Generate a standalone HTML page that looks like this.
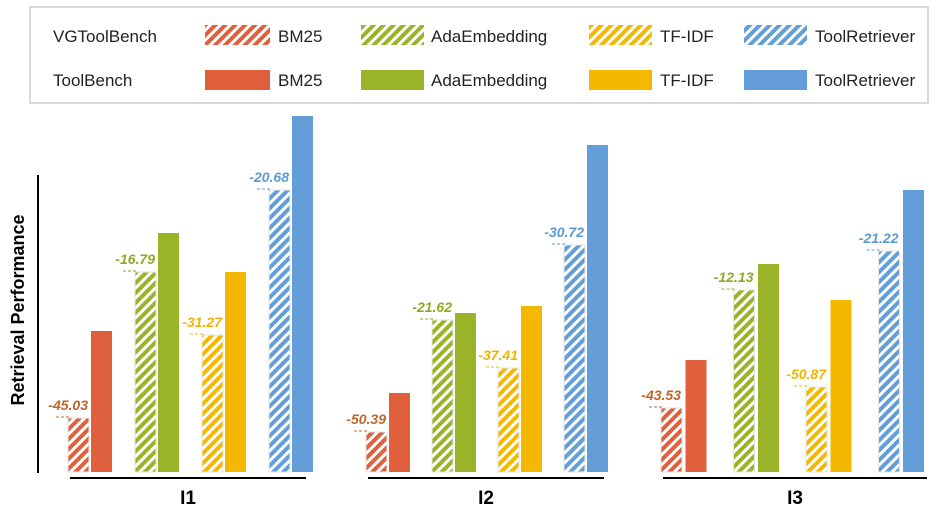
<!DOCTYPE html>
<html><head><meta charset="utf-8"><style>
body{margin:0;background:#fff;}
svg{display:block;font-family:"Liberation Sans",sans-serif;}
</style></head><body>
<svg id="chart" width="932" height="510" viewBox="0 0 932 510" xmlns="http://www.w3.org/2000/svg">
<defs>
<pattern id="h0" patternUnits="userSpaceOnUse" width="7" height="7" patternTransform="rotate(45)"><rect width="7" height="7" fill="#fff"/><rect width="4" height="7" fill="#e0603e"/></pattern>
<pattern id="h1" patternUnits="userSpaceOnUse" width="7" height="7" patternTransform="rotate(45)"><rect width="7" height="7" fill="#fff"/><rect width="4" height="7" fill="#9ab42a"/></pattern>
<pattern id="h2" patternUnits="userSpaceOnUse" width="7" height="7" patternTransform="rotate(45)"><rect width="7" height="7" fill="#fff"/><rect width="4" height="7" fill="#f5b800"/></pattern>
<pattern id="h3" patternUnits="userSpaceOnUse" width="7" height="7" patternTransform="rotate(45)"><rect width="7" height="7" fill="#fff"/><rect width="4" height="7" fill="#649ed8"/></pattern>
</defs>
<rect x="30" y="7" width="898" height="96" fill="#fff" stroke="#d9d9d9" stroke-width="2"/>
<g font-size="17" fill="#222">
<text x="53" y="42">VGToolBench</text>
<text x="53" y="86">ToolBench</text>
<rect x="205" y="25" width="65" height="20" fill="url(#h0)"/>
<text x="278" y="42">BM25</text>
<rect x="361" y="25" width="63" height="20" fill="url(#h1)"/>
<text x="431" y="42">AdaEmbedding</text>
<rect x="589" y="25" width="63" height="20" fill="url(#h2)"/>
<text x="660" y="42">TF-IDF</text>
<rect x="744" y="25" width="63" height="20" fill="url(#h3)"/>
<text x="815" y="42">ToolRetriever</text>
<rect x="205" y="70" width="65" height="20" fill="#e0603e"/>
<text x="278" y="86">BM25</text>
<rect x="361" y="70" width="63" height="20" fill="#9ab42a"/>
<text x="431" y="86">AdaEmbedding</text>
<rect x="589" y="70" width="63" height="20" fill="#f5b800"/>
<text x="660" y="86">TF-IDF</text>
<rect x="744" y="70" width="63" height="20" fill="#649ed8"/>
<text x="815" y="86">ToolRetriever</text>
</g>
<line x1="38" y1="175" x2="38" y2="473" stroke="#000" stroke-width="2"/>
<text transform="translate(24,310) rotate(-90)" text-anchor="middle" font-size="18" font-weight="bold" fill="#000">Retrieval Performance</text>
<g id="marks"></g>
</svg>
<script>
const groups = ["I1","I2","I3"];
const methods = ["BM25","AdaEmbedding","TF-IDF","ToolRetriever"];
const vgValues = [[54,200,137,282],[40,152,104,227],[64,182,85,221]];
const tbValues = [[141,239,200,356],[79,159,166,327],[112,208,172,282]];
const dropLabels = [["-45.03","-16.79","-31.27","-20.68"],["-50.39","-21.62","-37.41","-30.72"],["-43.53","-12.13","-50.87","-21.22"]];
const colors = ["#e0603e","#9ab42a","#f5b800","#649ed8"];
const textColors = ["#c0662a","#8fa826","#f0b400","#5b9bd5"];
const NS = "http://www.w3.org/2000/svg";
const baseY = 472;
const groupStart = [68,366,661];
const groupStep = [67,66,72.5];
const solidOff = [23,23,24.5];
const groupWidth = [240,240,268];
function yScale(v){ return baseY - v; }
function barX(g,m,solid){ return groupStart[g] + m*groupStep[g] + (solid?solidOff[g]:0); }
const marks = document.getElementById('marks');
function mk(tag, attrs){ const e=document.createElementNS(NS,tag); for(const k in attrs) e.setAttribute(k,attrs[k]); marks.appendChild(e); return e; }
groups.forEach((gname,g)=>{
  const gx = groupStart[g];
  const base = mk('line',{x1:gx+2,y1:478,x2:gx+groupWidth[g]-2,y2:478,stroke:'#000','stroke-width':2});
  
  
  const lbl = mk('text',{x:gx+groupWidth[g]/2,y:504,'text-anchor':'middle','font-size':19,'font-weight':'bold',fill:'#000'});
  lbl.textContent = gname;
  
  
  methods.forEach((m,i)=>{
    const hv = vgValues[g][i], sv = tbValues[g][i];
    const hx = barX(g,i,false), sx = barX(g,i,true);
    const hb = mk('rect',{x:hx,y:yScale(hv),width:21,height:baseY-yScale(hv),fill:'url(#h'+i+')',stroke:'#e6e6e6','stroke-width':1});
    
    
    const sb = mk('rect',{x:sx,y:yScale(sv),width:21,height:baseY-yScale(sv),fill:colors[i]});
    
    
    const dl = mk('line',{x1:hx-12,y1:yScale(hv)-1,x2:hx+2,y2:yScale(hv)-1,stroke:textColors[i],'stroke-width':1,'stroke-dasharray':'3,2'});
    
    
    const t = mk('text',{x:hx+20,y:yScale(hv)-8,'text-anchor':'end','font-size':14,'font-weight':'bold','font-style':'italic',fill:textColors[i]});
    t.textContent = dropLabels[g][i];
    
    
  });
});
</script>
</body></html>
